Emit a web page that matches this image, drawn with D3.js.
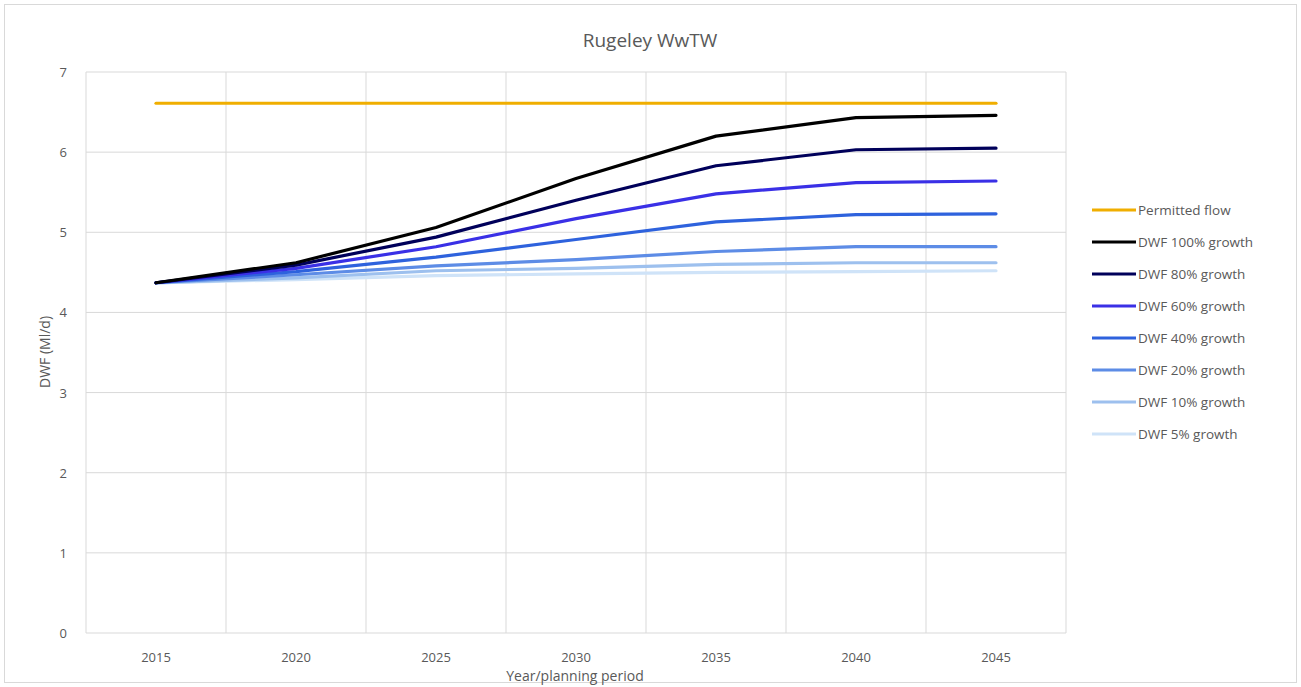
<!DOCTYPE html>
<html><head><meta charset="utf-8">
<script src="https://cdn.jsdelivr.net/npm/d3@7"></script>
<style>body{margin:0;background:#fff;} text{font-family:"Open Sans","Noto Sans",sans-serif;}</style>
</head><body>
<svg id="c" width="1301" height="687"></svg>
<script>
const years = ["2015","2020","2025","2030","2035","2040","2045"];
const yTicks = [0,1,2,3,4,5,6,7];
const seriesNames = ["Permitted flow","DWF 100% growth","DWF 80% growth","DWF 60% growth","DWF 40% growth","DWF 20% growth","DWF 10% growth","DWF 5% growth"];
const seriesColors = ["#F0AE00","#000000","#00005A","#3A30E6","#2E62DD","#5D8CE6","#9DC0EE","#CFE3F8"];
const permitted = [6.61,6.61,6.61,6.61,6.61,6.61,6.61];
const g100 = [4.37,4.62,5.06,5.67,6.20,6.43,6.46];
const g80  = [4.37,4.59,4.94,5.40,5.83,6.03,6.05];
const g60  = [4.37,4.55,4.82,5.17,5.48,5.62,5.64];
const g40  = [4.37,4.51,4.69,4.91,5.13,5.22,5.23];
const g20  = [4.37,4.47,4.58,4.66,4.76,4.82,4.82];
const g10  = [4.37,4.43,4.52,4.55,4.60,4.62,4.62];
const g5   = [4.37,4.41,4.46,4.48,4.50,4.51,4.52];
const seriesValues = [permitted,g100,g80,g60,g40,g20,g10,g5];

const svg = d3.select("#c");
const W=1301,H=687;
svg.append("rect").attr("x",4.5).attr("y",4.5).attr("width",W-9).attr("height",H-9).attr("fill","#fff").attr("stroke","#d9d9d9");

const L=86,R=1066,T=72,B=633;
const x = d3.scaleBand().domain(years).range([L,R]);
const y = d3.scaleLinear().domain([0,7]).range([B,T]);

svg.append("g").selectAll("line").data(yTicks).join("line")
  .attr("x1",L).attr("x2",R).attr("y1",d=>y(d)).attr("y2",d=>y(d))
  .attr("stroke","#d9d9d9").attr("stroke-width",1);
const bounds = years.map(d=>x(d)).concat([R]);
svg.append("g").selectAll("line").data(bounds).join("line")
  .attr("x1",d=>d).attr("x2",d=>d).attr("y1",T).attr("y2",B)
  .attr("stroke","#d9d9d9").attr("stroke-width",1);

svg.append("g").selectAll("text").data(yTicks).join("text")
  .attr("x",67).attr("y",d=>y(d)+5).attr("text-anchor","end")
  .attr("font-size",13).attr("fill","#595959").text(d=>d);
svg.append("g").selectAll("text").data(years).join("text")
  .attr("x",d=>x(d)+x.bandwidth()/2).attr("y",662).attr("text-anchor","middle")
  .attr("font-size",13).attr("fill","#595959").text(d=>d);

svg.append("text").attr("x",650).attr("y",47).attr("text-anchor","middle")
  .attr("font-size",19).attr("fill","#595959").text("Rugeley WwTW");
svg.append("text").attr("x",575).attr("y",681).attr("text-anchor","middle")
  .attr("font-size",14).attr("fill","#595959").text("Year/planning period");
svg.append("text").attr("transform","translate(50,352) rotate(-90)").attr("text-anchor","middle")
  .attr("font-size",14).attr("fill","#595959").text("DWF (Ml/d)");

const line = d3.line().x((d,i)=>x(years[i])+x.bandwidth()/2).y(d=>y(d));
const order = [7,6,5,4,3,2,1,0];
svg.append("g").selectAll("path").data(order).join("path")
  .attr("d",i=>line(seriesValues[i])).attr("fill","none")
  .attr("stroke",i=>seriesColors[i]).attr("stroke-width",3.2)
  .attr("stroke-linejoin","round").attr("stroke-linecap","round");

const lg = svg.append("g");
seriesNames.forEach((n,i)=>{
  const yy = 210 + i*32;
  lg.append("line").attr("x1",1092).attr("x2",1136).attr("y1",yy).attr("y2",yy)
    .attr("stroke",seriesColors[i]).attr("stroke-width",3.2);
  lg.append("text").attr("x",1138).attr("y",yy+5).attr("font-size",13.5)
    .attr("fill","#595959").text(n);
});
</script>
</body></html>
